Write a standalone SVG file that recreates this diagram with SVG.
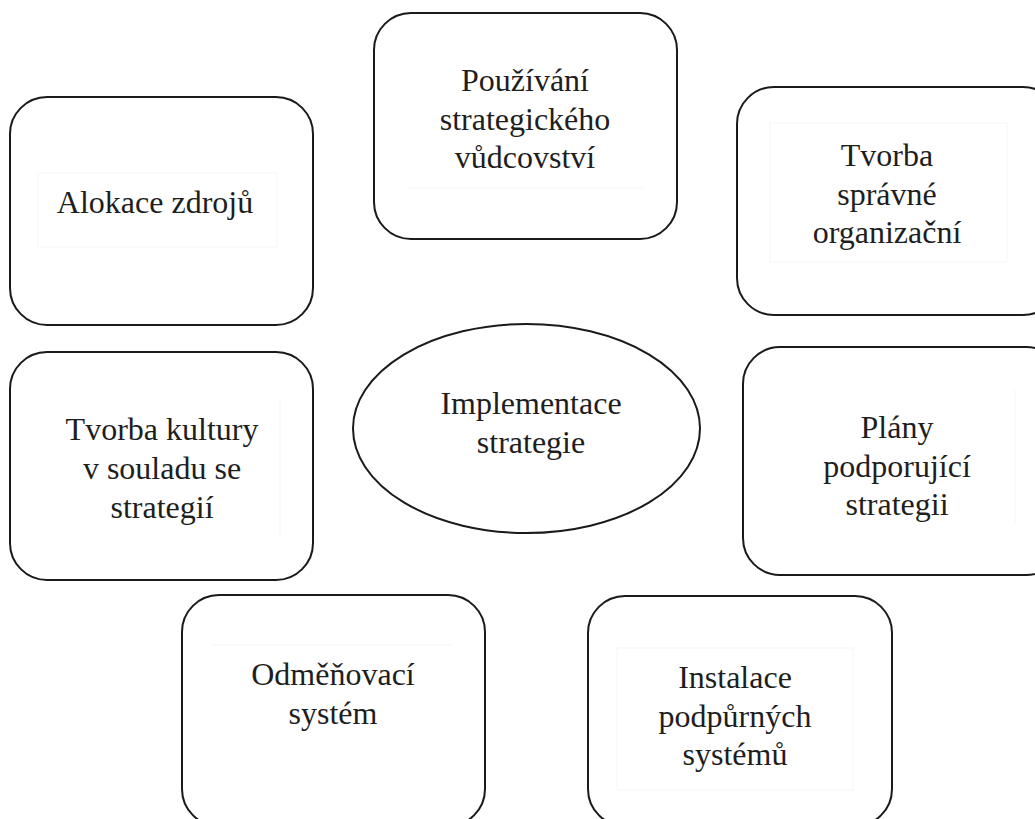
<svg xmlns="http://www.w3.org/2000/svg" width="1035" height="819" viewBox="0 0 1035 819">
<style>
.box{fill:#fff;stroke:#1a1a1a;stroke-width:2}
.faint{fill:none;stroke:#f5f5f5;stroke-width:1}
.t{font-family:"Liberation Serif","Times New Roman",serif;font-size:32px;fill:#1e1e1e;text-anchor:middle}
</style>
<rect width="1035" height="819" fill="#fff"/>
<g id="connectors"></g>
<g id="n-alokace">
<rect class="box" x="10" y="97" width="303" height="228" rx="37"/>
<rect class="faint" x="38" y="173" width="239" height="74"/>
<text class="t" x="155" y="213">Alokace zdrojů</text>
</g>
<g id="n-pouzivani">
<rect class="box" x="374" y="13" width="303" height="226" rx="37"/>
<line class="faint" x1="407" y1="188" x2="643" y2="188"/>
<text class="t" x="525" y="91">Používání</text>
<text class="t" x="525" y="130">strategického</text>
<text class="t" x="525" y="168">vůdcovství</text>
</g>
<g id="n-tvorba-org">
<rect class="box" x="737" y="87" width="323" height="228" rx="37"/>
<rect class="faint" x="770" y="123" width="237" height="139"/>
<text class="t" x="887" y="166">Tvorba</text>
<text class="t" x="887" y="205">správné</text>
<text class="t" x="887" y="243">organizační</text>
</g>
<g id="n-kultura">
<rect class="box" x="10" y="352" width="303" height="228" rx="37"/>
<line class="faint" x1="280" y1="400" x2="280" y2="535"/>
<text class="t" x="162" y="440">Tvorba kultury</text>
<text class="t" x="162" y="479">v souladu se</text>
<text class="t" x="162" y="518">strategií</text>
</g>
<g id="n-implementace">
<ellipse class="box" cx="526.5" cy="428.5" rx="173.5" ry="104.5"/>
<text class="t" x="531" y="414">Implementace</text>
<text class="t" x="531" y="453">strategie</text>
</g>
<g id="n-plany">
<rect class="box" x="743" y="347" width="320" height="228" rx="37"/>
<line class="faint" x1="1015" y1="390" x2="1015" y2="525"/>
<text class="t" x="897" y="438">Plány</text>
<text class="t" x="897" y="477">podporující</text>
<text class="t" x="897" y="515">strategii</text>
</g>
<g id="n-odmenovaci">
<rect class="box" x="182" y="595" width="303" height="231" rx="37"/>
<line class="faint" x1="213" y1="645" x2="452" y2="645"/>
<text class="t" x="333" y="685">Odměňovací</text>
<text class="t" x="333" y="724">systém</text>
</g>
<g id="n-instalace">
<rect class="box" x="588" y="596" width="304" height="230" rx="37"/>
<rect class="faint" x="617" y="648" width="236" height="142"/>
<text class="t" x="735" y="688">Instalace</text>
<text class="t" x="735" y="727">podpůrných</text>
<text class="t" x="735" y="765">systémů</text>
</g>
</svg>
